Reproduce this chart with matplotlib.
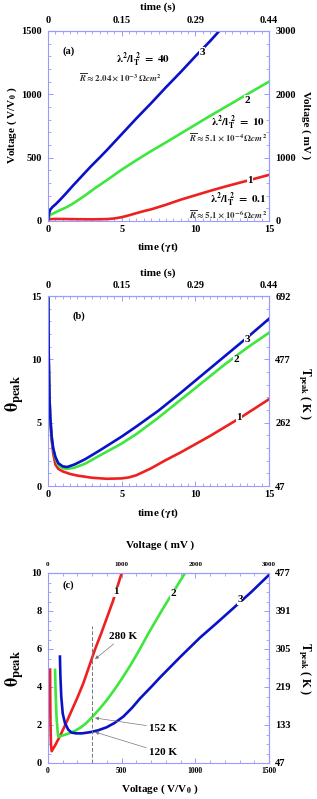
import numpy as np
import matplotlib
matplotlib.use("Agg")
import matplotlib.pyplot as plt
from matplotlib.ticker import MultipleLocator

# ============================================================
# Data
# ============================================================
# (a) voltage vs time
t_a3 = [0, 0.05, 0.15, 0.3, 0.5, 0.8, 1.2, 1.7, 2.3, 2.9, 3.5, 4.0, 5.0, 6.0, 7.0, 8.0, 9.0, 10.0, 11.0, 11.7]
v_a3 = [0, 50, 88, 110, 130, 165, 215, 280, 355, 430, 500, 560, 685, 810, 930, 1055, 1175, 1300, 1420, 1510]
t_a2 = [0, 0.05, 0.15, 0.4, 0.8, 1.2, 1.7, 2.5, 3.2, 4.0, 5.0, 6.0, 7.0, 8.0, 9.0, 10.0, 11.0, 12.0, 13.0, 14.0, 15.0]
v_a2 = [0, 30, 48, 62, 85, 105, 138, 200, 260, 323, 405, 480, 552, 620, 690, 760, 830, 897, 965, 1033, 1100]
t_a1 = [0, 0.1, 0.5, 1, 2, 3, 4, 4.5, 5, 5.5, 6, 6.5, 7, 8, 9, 10, 11, 12, 13, 14, 15]
v_a1 = [0, 15, 16, 16, 14, 13, 15, 20, 30, 45, 62, 78, 92, 128, 168, 203, 238, 271, 302, 333, 364]

# (b) theta_peak vs time
t_b3 = [0.02, 0.05, 0.1, 0.15, 0.25, 0.35, 0.5, 0.7, 1.0, 1.3, 1.8, 2.5, 3.5, 5.0, 6.0, 7.5, 9.0, 10.5, 12.0, 13.5, 15.0]
th_b3 = [15, 10, 7, 5.5, 3.9, 3.0, 2.3, 1.8, 1.55, 1.5, 1.7, 2.1, 2.8, 3.9, 4.7, 5.95, 7.35, 8.8, 10.25, 11.7, 13.2]
t_b2 = [0.02, 0.05, 0.1, 0.15, 0.25, 0.35, 0.5, 0.7, 1.0, 1.3, 1.8, 2.5, 3.5, 5.0, 6.0, 7.5, 9.0, 10.5, 12.0, 13.5, 15.0]
th_b2 = [15, 10, 7, 5.5, 3.85, 2.95, 2.2, 1.65, 1.4, 1.35, 1.45, 1.75, 2.4, 3.35, 4.1, 5.4, 6.8, 8.2, 9.6, 10.9, 12.1]
t_b1 = [0.02, 0.05, 0.1, 0.15, 0.25, 0.35, 0.5, 0.7, 1.0, 1.5, 2.0, 3.0, 4.0, 5.0, 5.5, 6.0, 7.0, 8.0, 9.0, 10.0, 11.0, 12.0, 13.0, 14.0, 15.0]
th_b1 = [15, 10, 7, 5.3, 3.6, 2.6, 1.7, 1.35, 1.15, 0.95, 0.82, 0.65, 0.57, 0.6, 0.68, 0.85, 1.4, 2.05, 2.65, 3.3, 3.95, 4.65, 5.35, 6.1, 6.85]

# (c) theta_peak vs voltage
v_c1 = [14, 15, 17, 20, 25, 50, 80, 120, 160, 200, 240, 280, 320, 360, 400, 440, 480, 500]
th_c1 = [4.9, 3.5, 2.0, 1.0, 0.62, 0.95, 1.4, 2.05, 2.75, 3.45, 4.2, 5.1, 6.0, 6.8, 7.65, 8.5, 9.5, 10.0]
v_c2 = [48, 52, 58, 66, 70, 100, 140, 180, 220, 260, 300, 350, 400, 450, 500, 560, 620, 680, 740, 800, 860, 930]
th_c2 = [4.9, 3.6, 2.4, 1.6, 1.38, 1.45, 1.55, 1.68, 1.86, 2.1, 2.42, 2.85, 3.32, 3.85, 4.42, 5.15, 5.95, 6.8, 7.6, 8.38, 9.12, 10.0]
v_c3 = [81, 84, 90, 100, 115, 138, 160, 190, 230, 285, 340, 398, 450, 511, 570, 625, 700, 760, 900, 1032, 1150, 1258, 1380, 1500]
th_c3 = [5.6, 4.6, 3.5, 2.6, 2.1, 1.75, 1.6, 1.56, 1.56, 1.62, 1.72, 1.88, 2.1, 2.44, 2.9, 3.4, 4.0, 4.5, 5.6, 6.6, 7.4, 8.15, 9.0, 9.9]

# secondary axis tick labels
time_s_labels = ["0", "0.15", "0.29", "0.44"]
mv_labels = ["0", "1000", "2000", "3000"]
tb_labels = ["47", "262", "477", "692"]
tc_labels = ["47", "133", "219", "305", "391", "477"]

# ============================================================
# Style
# ============================================================
plt.rcParams["font.family"] = ["Liberation Serif", "DejaVu Serif"]
plt.rcParams["font.weight"] = "bold"
plt.rcParams["mathtext.fontset"] = "stix"

W, H = 317, 799
SPINE = "#9a9aff"
RED, GREEN, BLUE = "#ee2020", "#3ee63e", "#0a12c8"
LW = 1.9


def fx(px):
    return px / W


def fy(py):
    return 1 - py / H


def style_ticks(ax, lsize):
    for s in ax.spines.values():
        s.set_color(SPINE)
        s.set_linewidth(0.8)
    ax.tick_params(which="both", direction="in", color=SPINE, labelsize=lsize)
    ax.tick_params(which="major", length=3.5, width=0.7)
    ax.tick_params(which="minor", length=2, width=0.6)


def style_axes(ax, lsize=7.5):
    style_ticks(ax, lsize)
    ax.tick_params(axis="x", pad=3)
    ax.tick_params(axis="y", pad=4.5)


def add_secondary(ax, xpos, xlabels, ypos, ylabels, xminor, yminor, xsize=7.5, ysize=7.5):
    top = ax.secondary_xaxis("top")
    top.set_xticks(xpos, labels=xlabels)
    top.xaxis.set_minor_locator(MultipleLocator(xminor))
    right = ax.secondary_yaxis("right")
    right.set_yticks(ypos, labels=ylabels)
    right.yaxis.set_minor_locator(MultipleLocator(yminor))
    style_ticks(top, xsize)
    style_ticks(right, ysize)
    top.tick_params(pad=4)
    right.tick_params(pad=4.5)
    return top, right


def curve_label(ax, x, y, s):
    ax.text(x, y, s, fontsize=8, fontweight="bold", ha="center", va="center",
            bbox=dict(facecolor="white", edgecolor="none", pad=0.3), zorder=5)


fig = plt.figure(figsize=(W / 100, H / 100), dpi=100)

# ============================================================
# Panel (a)
# ============================================================
ax_a = fig.add_axes([fx(48), fy(221), fx(221), 190 / H])
ax_a.plot(t_a1, v_a1, color=RED, lw=LW)
ax_a.plot(t_a2, v_a2, color=GREEN, lw=LW)
ax_a.plot(t_a3, v_a3, color=BLUE, lw=LW)
ax_a.set_xlim(0, 15)
ax_a.set_ylim(0, 1500)
ax_a.set_xticks([0, 5, 10, 15])
ax_a.set_yticks([0, 500, 1000, 1500])
ax_a.xaxis.set_minor_locator(MultipleLocator(0.5))
ax_a.yaxis.set_minor_locator(MultipleLocator(100))
style_axes(ax_a)
add_secondary(ax_a, [0, 5, 10, 15], time_s_labels, [0, 500, 1000, 1500], mv_labels, 0.5, 100)

ax_a.text(1.0, 1340, "(a)", fontsize=7.5, fontweight="bold", va="center")
ax_a.text(6.45, 1270, r"$\mathbf{\lambda^2/l_T^{\ 2}\ =\ 40}$", fontsize=8, ha="center", va="center")
ax_a.text(4.9, 1136, r"$\overline{R}\approx 2.04\times10^{-3}\,\Omega cm^2$", fontsize=6.5,
          ha="center", va="center", color="#333333")
ax_a.text(14.7, 773, r"$\mathbf{\lambda^2/l_T^{\ 2}\ =\ 10}$", fontsize=8, ha="right", va="center")
ax_a.text(14.9, 663, r"$\overline{R}\approx 5.1\times10^{-4}\,\Omega cm^2$", fontsize=6.5,
          ha="right", va="center", color="#333333")
ax_a.text(14.8, 166, r"$\mathbf{\lambda^2/l_T^{\ 2}\ =\ 0.1}$", fontsize=8, ha="right", va="center")
ax_a.text(14.9, 55, r"$\overline{R}\approx 5.1\times10^{-6}\,\Omega cm^2$", fontsize=6.5,
          ha="right", va="center", color="#333333")
curve_label(ax_a, 10.45, 1333, "3")
curve_label(ax_a, 13.5, 955, "2")
curve_label(ax_a, 13.7, 323, "1")

fig.text(fx(158), fy(7), "time (s)", fontsize=8, fontweight="bold", ha="center", va="center")
fig.text(fx(158), fy(247), r"time ($\mathbf{\gamma}$t)", fontsize=8, fontweight="bold", ha="center", va="center")
fig.text(fx(12), fy(125), r"Voltage ( V/V$_{\mathbf{0}}$ )", fontsize=8, fontweight="bold",
         rotation=90, ha="center", va="center")
fig.text(fx(306), fy(125), "Voltage ( mV )", fontsize=8, fontweight="bold",
         rotation=270, ha="center", va="center")

# ============================================================
# Panel (b)
# ============================================================
ax_b = fig.add_axes([fx(48), fy(486), fx(221), 190 / H])
ax_b.plot(t_b1, th_b1, color=RED, lw=LW)
ax_b.plot(t_b2, th_b2, color=GREEN, lw=LW)
ax_b.plot(t_b3, th_b3, color=BLUE, lw=LW)
ax_b.set_xlim(0, 15)
ax_b.set_ylim(0, 15)
ax_b.set_xticks([0, 5, 10, 15])
ax_b.set_yticks([0, 5, 10, 15])
ax_b.xaxis.set_minor_locator(MultipleLocator(0.5))
ax_b.yaxis.set_minor_locator(MultipleLocator(1))
style_axes(ax_b)
add_secondary(ax_b, [0, 5, 10, 15], time_s_labels, [0, 5, 10, 15], tb_labels, 0.5, 1)

ax_b.text(2.1, 13.4, "(b)", fontsize=7.5, fontweight="bold", ha="center", va="center")
curve_label(ax_b, 13.5, 11.6, "3")
curve_label(ax_b, 12.8, 9.95, "2")
curve_label(ax_b, 12.97, 5.37, "1")

fig.text(fx(158), fy(273), "time (s)", fontsize=8, fontweight="bold", ha="center", va="center")
fig.text(fx(158), fy(513), r"time ($\mathbf{\gamma}$t)", fontsize=8, fontweight="bold", ha="center", va="center")
fig.text(fx(15), fy(393), r"$\mathbf{\theta_{peak}}$", fontsize=13, rotation=90, ha="center", va="center")
fig.text(fx(304), fy(393), r"$\mathbf{T_{peak}}$ ( K )", fontsize=8.5, fontweight="bold",
         rotation=270, ha="center", va="center")

# ============================================================
# Panel (c)
# ============================================================
ax_c = fig.add_axes([fx(48), fy(763), fx(221), 190 / H])
ax_c.plot(v_c1, th_c1, color=RED, lw=LW)
ax_c.plot(v_c2, th_c2, color=GREEN, lw=LW)
ax_c.plot(v_c3, th_c3, color=BLUE, lw=LW)
ax_c.set_xlim(0, 1500)
ax_c.set_ylim(0, 10)
ax_c.set_xticks([0, 500, 1000, 1500])
ax_c.set_yticks([0, 2, 4, 6, 8, 10])
ax_c.xaxis.set_minor_locator(MultipleLocator(100))
ax_c.yaxis.set_minor_locator(MultipleLocator(0.5))
style_axes(ax_c)
ax_c.tick_params(axis="x", labelsize=5.5)
add_secondary(ax_c, [0, 500, 1000, 1500], mv_labels, [0, 2, 4, 6, 8, 10], tc_labels, 100, 0.5,
              xsize=5, ysize=7.5)

ax_c.plot([300, 300], [0, 7.2], color="#777777", lw=0.7, ls=(0, (4, 2)))
arrow = dict(arrowstyle="-|>", color="#777777", lw=0.5, mutation_scale=5, shrinkA=0, shrinkB=0)
ax_c.annotate("280 K", xy=(319, 5.47), xytext=(507, 6.65), fontsize=8, fontweight="bold",
              ha="center", va="center", arrowprops=arrow)
ax_c.annotate("152 K", xy=(319, 2.37), xytext=(781, 1.84), fontsize=8, fontweight="bold",
              ha="center", va="center", arrowprops=arrow)
ax_c.annotate("120 K", xy=(319, 1.63), xytext=(781, 0.53), fontsize=8, fontweight="bold",
              ha="center", va="center", arrowprops=arrow)
ax_c.text(136, 9.37, "(c)", fontsize=7.5, fontweight="bold", ha="center", va="center")
curve_label(ax_c, 462, 9.0, "1")
curve_label(ax_c, 849, 8.9, "2")
curve_label(ax_c, 1303, 8.58, "3")

fig.text(fx(160), fy(545), "Voltage ( mV )", fontsize=8, fontweight="bold", ha="center", va="center")
fig.text(fx(160), fy(789), r"Voltage ( V/V$_{\mathbf{0}}$ )", fontsize=8, fontweight="bold",
         ha="center", va="center")
fig.text(fx(15), fy(668), r"$\mathbf{\theta_{peak}}$", fontsize=13, rotation=90, ha="center", va="center")
fig.text(fx(304), fy(668), r"$\mathbf{T_{peak}}$ ( K )", fontsize=8.5, fontweight="bold",
         rotation=270, ha="center", va="center")

fig.savefig("out.png", dpi=100)
